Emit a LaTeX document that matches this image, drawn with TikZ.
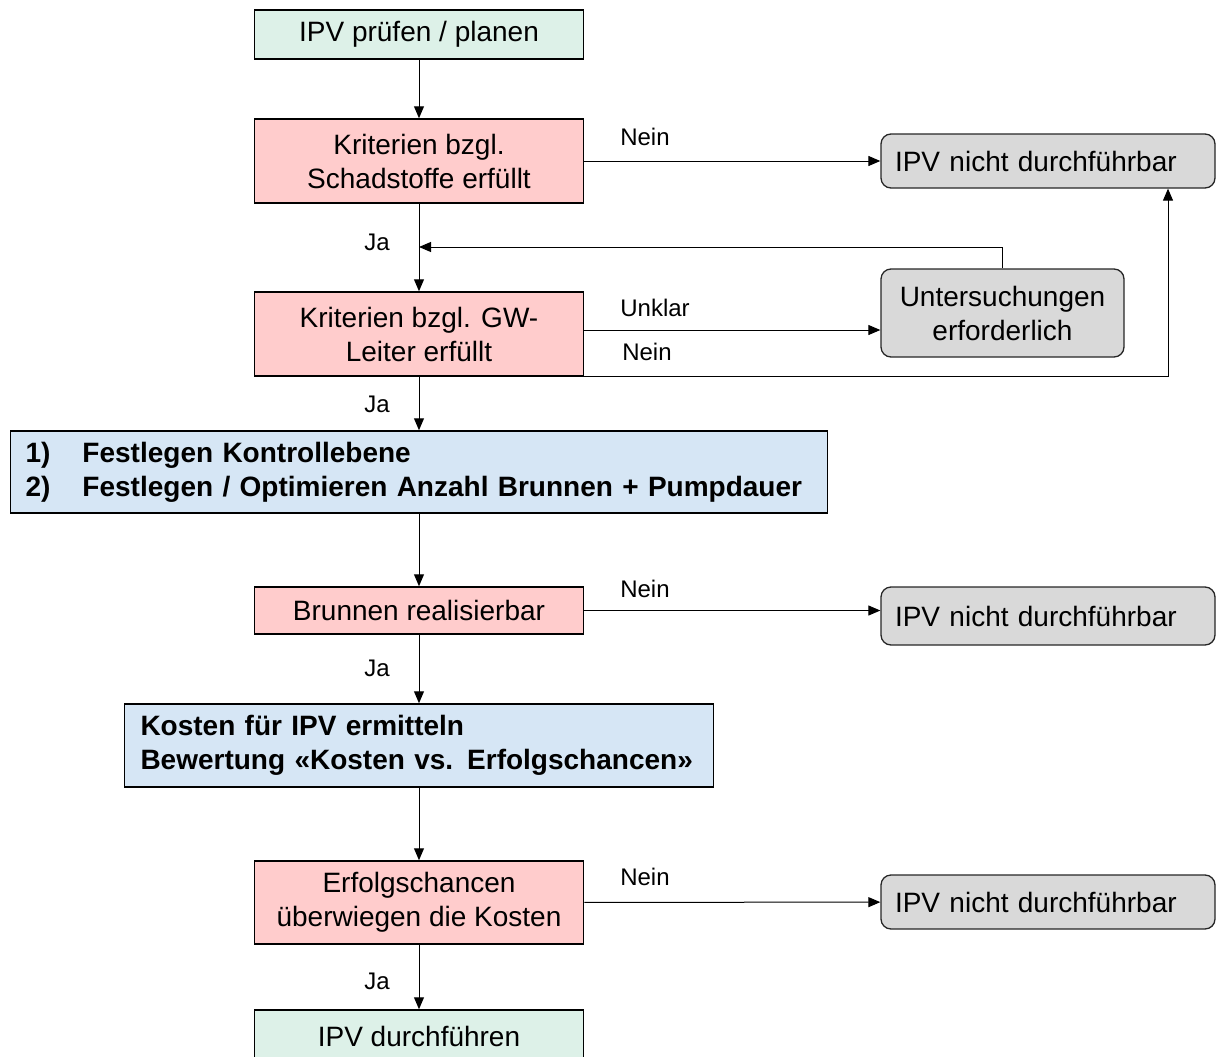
\documentclass[tikz,border=0pt]{standalone}
\usepackage{fontspec}
\setmainfont{Liberation Sans}
\usetikzlibrary{arrows.meta}
\definecolor{gfill}{HTML}{DDF1E8}
\definecolor{pfill}{HTML}{FFCCCC}
\definecolor{bfill}{HTML}{D6E6F5}
\definecolor{grfill}{HTML}{D9D9D9}
\begin{document}
\begin{tikzpicture}[x=1pt,y=-1pt,
  base/.style={draw=black, line width=1.5pt, inner sep=0pt, align=center,
    font=\fontsize{28}{34}\selectfont},
  greenbox/.style={base, fill=gfill, minimum width=329pt},
  pinkbox/.style={base, fill=pfill, minimum width=329pt},
  bluebox/.style={base, fill=bfill, align=left, font=\fontsize{28}{34}\selectfont\bfseries},
  graybox/.style={base, fill=grfill, rounded corners=10pt, draw=black!85, line width=1.3pt},
  conn/.style={line width=1pt, -{Triangle[length=12pt,width=10pt]}},
  lab/.style={font=\fontsize{24}{28}\selectfont, inner sep=0pt}]
\useasboundingbox (0,0) rectangle (1216,1057);
\clip (0,0) rectangle (1216,1057);

\node[greenbox, minimum height=49pt] (s) at (419,34.5) {IPV prüfen / planen};
\node[pinkbox, minimum height=84pt] (k1) at (419,161) {Kriterien bzgl.\\Schadstoffe erfüllt};
\node[pinkbox, minimum height=84pt] (k2) at (419,334) {Kriterien bzgl. GW-\\Leiter erfüllt};
\node[graybox, minimum height=54pt, text width=306pt, inner xsep=14pt, align=left] (n1) at (1048,161) {IPV nicht durchführbar};
\node[graybox, minimum width=243pt, minimum height=88pt] (u) at (1002.5,313) {Untersuchungen\\erforderlich};
\node[bluebox, minimum height=82pt, text width=787pt, inner xsep=15pt] (b1) at (419,472)
  {\makebox[57pt][l]{1)}Festlegen Kontrollebene\\\makebox[57pt][l]{2)}Festlegen / Optimieren Anzahl Brunnen + Pumpdauer};
\node[pinkbox, minimum height=47pt] (br) at (419,610.5) {Brunnen realisierbar};
\node[graybox, minimum height=58pt, text width=306pt, inner xsep=14pt, align=left] (n2) at (1048,616) {IPV nicht durchführbar};
\node[bluebox, minimum height=83pt, text width=557pt, inner xsep=16pt] (b2) at (419,745.5)
  {Kosten für IPV ermitteln\\Bewertung «Kosten vs. Erfolgschancen»};
\node[pinkbox, minimum height=83pt] (e) at (419,902.5) {Erfolgschancen\\überwiegen die Kosten};
\node[graybox, minimum height=54pt, text width=306pt, inner xsep=14pt, align=left] (n3) at (1048,902) {IPV nicht durchführbar};
\node[greenbox, minimum height=52pt] (z) at (419,1036) {IPV durchführen};

% connectors
\draw[conn] (s) -- (k1);
\draw[conn] (k1) -- (n1);
\draw[conn] (k1) -- (k2);
\coordinate (ua) at ([yshift=-17pt]u.west);
\draw[conn] (k2.east |- ua) -- (ua);
\coordinate (n1r) at ([xshift=120pt]n1.south);
\draw[conn] (k2.south east) -| (n1r);
\coordinate (j) at (419,247);
\draw[conn] (u.north) |- (j);
\draw[conn] (k2) -- (b1);
\draw[conn] (b1) -- (br);
\draw[conn] (br.east) -- (br.east -| n2.west);
\draw[conn] (br) -- (b2);
\draw[conn] (b2) -- (e);
\draw[conn] (e) -- (n3);
\draw[conn] (e) -- (z);

% labels
\node[lab] (l1) at (645,137) {Nein};
\node[lab] (l2) at (377,242) {Ja};
\node[lab] (l3) at (655,308) {Unklar};
\node[lab] (l4) at (647,352) {Nein};
\node[lab] (l5) at (377,404) {Ja};
\node[lab] (l6) at (645,589) {Nein};
\node[lab] (l7) at (377,668) {Ja};
\node[lab] (l8) at (645,877) {Nein};
\node[lab] (l9) at (377,981) {Ja};
\end{tikzpicture}
\end{document}
